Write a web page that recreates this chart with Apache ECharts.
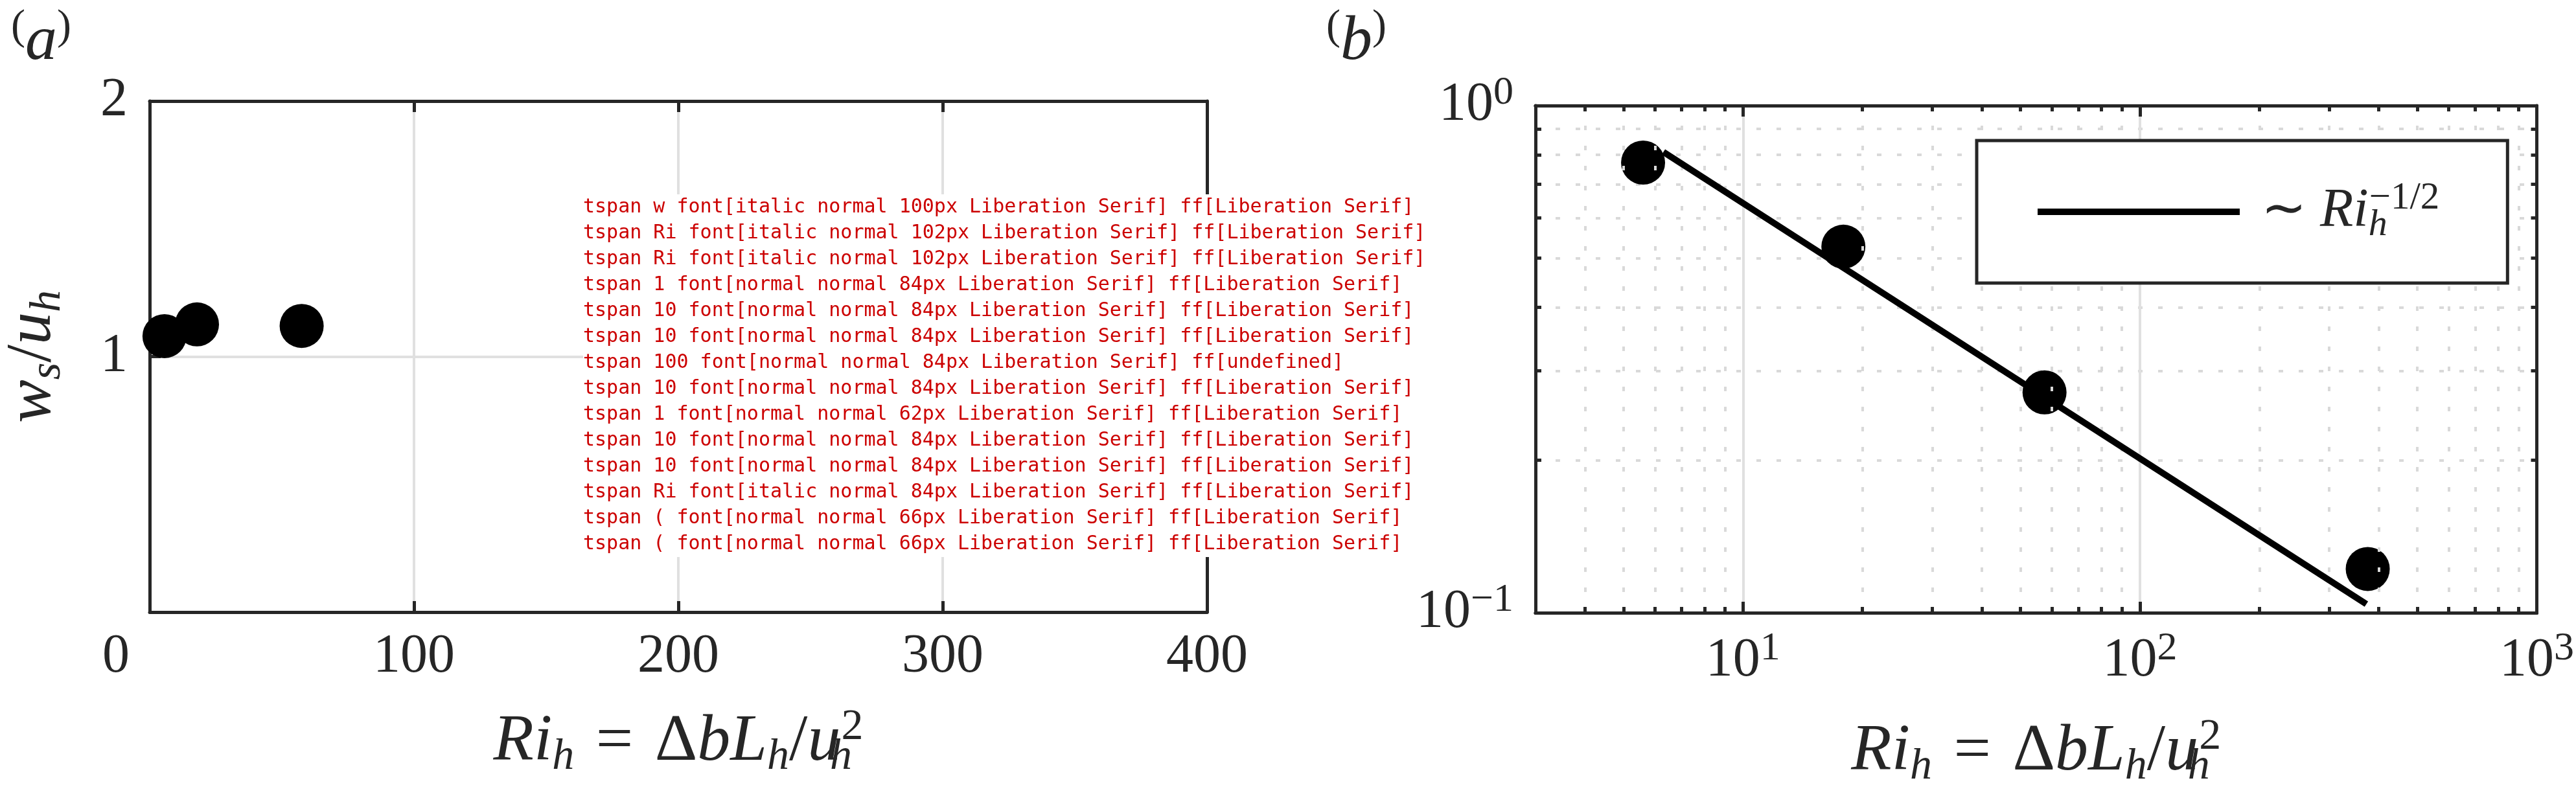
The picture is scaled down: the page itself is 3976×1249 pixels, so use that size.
<!DOCTYPE html>
<html>
<head>
<meta charset="utf-8">
<title>Ri scaling</title>
<script src="https://cdn.jsdelivr.net/npm/echarts@6/dist/echarts.min.js"></script>
<style>
  html, body { margin: 0; padding: 0; background: #fff; }
  #main { width: 3976px; height: 1249px; }
</style>
</head>
<body>
<div id="main"></div>
<script>
var riValues = [5.6, 17.9, 57.5, 375];
var wsRatio = [1.08, 1.126, 1.12, 1.23];
var leRatio = [0.772, 0.527, 0.272, 0.122];
var fitRi = [6.3, 372];
var fitLe = [0.81, 0.104];
var xTicksA = [100, 200, 300];
var xLabelsA = [0, 100, 200, 300, 400];
var yTicksA = [1];
var yLabelsA = [1, 2];
var xMajorB = [10, 100];
var xLabelsB = [10, 100, 1000];
var xMinorB = [4, 5, 6, 7, 8, 9, 20, 30, 40, 50, 60, 70, 80, 90, 200, 300, 400, 500, 600, 700, 800, 900];
var yMinorB = [0.2, 0.3, 0.4, 0.5, 0.6, 0.7, 0.8, 0.9];
var yLabelsB = [0.1, 1];

var serif = 'Liberation Serif';
var ink = '#262626';

function pairs(xs, ys) {
  return xs.map(function (x, i) { return [x, ys[i]]; });
}

function mathRich(size, sub, lh, subLh, supLh) {
  return {
    r: { fontFamily: serif, fontSize: size, lineHeight: lh, color: ink },
    q: { fontFamily: serif, fontSize: size, lineHeight: lh, color: ink, padding: [0, 8, 0, 8] },
    i: { fontFamily: serif, fontSize: size, lineHeight: lh, fontStyle: 'italic', color: ink },
    s: { fontFamily: serif, fontSize: sub, lineHeight: subLh, fontStyle: 'italic', verticalAlign: 'bottom', color: ink },
    z: { fontFamily: serif, fontSize: sub, lineHeight: subLh, fontStyle: 'italic', verticalAlign: 'bottom', color: ink, width: 1 },
    p: { fontFamily: serif, fontSize: sub, lineHeight: supLh, verticalAlign: 'top', color: ink }
  };
}

var tickRich = {
  b: { fontFamily: serif, fontSize: 84, lineHeight: 100, color: ink },
  e: { fontFamily: serif, fontSize: 62, lineHeight: 55, verticalAlign: 'top', color: ink }
};

function powLabel(v) {
  var e = Math.round(Math.log(v) / Math.LN10);
  return '{b|10}{e|' + (e < 0 ? '\u2212' + (-e) : e) + '}';
}

var riTitle = '{i|Ri}{s|h}{q| = }{r|\u0394}{i|bL}{s|h}{r|/}{i|u}{z|h}{p|2}';

var lineOn = { show: true, onZero: false, lineStyle: { color: ink, width: 5 } };
var gridMajor = { show: true, lineStyle: { color: '#e0e0e0', width: 4 } };
var gridMinor = { show: true, lineStyle: { color: '#d9d9d9', width: 4, type: [7, 24] } };

function ticks(values, len) {
  return { show: true, inside: true, length: len, customValues: values, lineStyle: { color: ink, width: 5 } };
}

function noLabel() { return { show: false }; }
var dot = { color: '#000', opacity: 1 };

var myChart = echarts.init(document.getElementById('main'));

var option = {
  animation: false,
  backgroundColor: '#fff',
  color: ['#000'],
  textStyle: { fontFamily: serif },
  title: [
    { text: '{p|(}{i|a}{p|)}', left: 17, top: 10, padding: 0,
      textStyle: { fontFamily: serif, fontWeight: 'normal', rich: mathRich(98, 66, 110, 40, 82) } },
    { text: '{p|(}{i|b}{p|)}', left: 2047, top: 10, padding: 0,
      textStyle: { fontFamily: serif, fontWeight: 'normal', rich: mathRich(98, 66, 110, 40, 82) } }
  ],
  grid: [
    { left: 231, top: 156, width: 1632, height: 789 },
    { left: 2370, top: 163, width: 1549, height: 783 }
  ],
  legend: {
    data: ['fit'],
    left: 3051, top: 217,
    padding: [60, 105, 60, 94],
    borderColor: ink, borderWidth: 5,
    backgroundColor: '#fff',
    icon: 'rect', itemWidth: 312, itemHeight: 10,
    selectedMode: false,
    formatter: function () { return '{t|\u223c }{i|Ri}{z|h}{p|\u22121/2}'; },
    textStyle: {
      fontFamily: serif, fontWeight: 'normal',
      rich: {
        t: { fontFamily: serif, fontSize: 84, lineHeight: 100, color: ink, padding: [0, 0, 0, 28] },
        i: { fontFamily: serif, fontSize: 84, lineHeight: 100, fontStyle: 'italic', color: ink },
        z: { fontFamily: serif, fontSize: 58, lineHeight: 44, fontStyle: 'italic', verticalAlign: 'bottom', color: ink, width: 1 },
        p: { fontFamily: serif, fontSize: 59, lineHeight: 76, verticalAlign: 'top', color: ink }
      }
    }
  },
  xAxis: [
    {
      type: 'value', gridIndex: 0, position: 'bottom', min: 0, max: 400, interval: 100,
      axisLine: lineOn, axisTick: ticks(xTicksA, 17), splitLine: gridMajor,
      axisLabel: {
        customValues: xLabelsA, margin: 28, fontFamily: serif, fontWeight: 'normal', fontSize: 84, color: ink,
        formatter: function (v) { return v === 0 ? '{z|0}' : String(v); },
        rich: { z: { fontFamily: serif, fontSize: 84, color: ink, padding: [0, 104, 0, 0] } }
      },
      name: riTitle, nameLocation: 'middle', nameGap: 144,
      nameTextStyle: { fontFamily: serif, fontWeight: 'normal', rich: mathRich(102, 68, 114, 42, 66) }
    },
    {
      type: 'value', gridIndex: 0, position: 'top', min: 0, max: 400, interval: 100, z: 3,
      axisLine: lineOn, axisTick: ticks(xTicksA, 17), splitLine: { show: false }, axisLabel: noLabel()
    },
    {
      type: 'log', logBase: 10, gridIndex: 1, position: 'bottom', min: 3, max: 1000,
      axisLine: lineOn, axisTick: ticks(xMajorB, 17), splitLine: gridMajor,
      axisLabel: { customValues: xLabelsB, margin: 25, fontFamily: serif, fontWeight: 'normal', formatter: powLabel, rich: tickRich },
      name: riTitle, nameLocation: 'middle', nameGap: 158,
      nameTextStyle: { fontFamily: serif, fontWeight: 'normal', rich: mathRich(102, 68, 114, 42, 66) }
    },
    {
      type: 'log', logBase: 10, gridIndex: 1, position: 'bottom', min: 3, max: 1000, z: 3,
      axisLine: lineOn, axisTick: ticks(xMinorB, 9), splitLine: gridMinor, axisLabel: noLabel()
    },
    {
      type: 'log', logBase: 10, gridIndex: 1, position: 'top', min: 3, max: 1000, z: 3,
      axisLine: lineOn, axisTick: ticks(xMajorB, 17), splitLine: { show: false }, axisLabel: noLabel()
    },
    {
      type: 'log', logBase: 10, gridIndex: 1, position: 'top', min: 3, max: 1000, z: 3,
      axisLine: lineOn, axisTick: ticks(xMinorB, 9), splitLine: { show: false }, axisLabel: noLabel()
    }
  ],
  yAxis: [
    {
      type: 'value', gridIndex: 0, position: 'left', min: 0, max: 2, interval: 1,
      axisLine: lineOn, axisTick: ticks(yTicksA, 17), splitLine: gridMajor,
      axisLabel: { customValues: yLabelsA, margin: 34, fontFamily: serif, fontWeight: 'normal', fontSize: 84, color: ink },
      name: '{i|w}{s|s}{r|/}{i|u}{s|h}', nameLocation: 'middle', nameGap: 123,
      nameTextStyle: { fontFamily: serif, fontWeight: 'normal', rich: mathRich(100, 68, 114, 42, 86) }
    },
    {
      type: 'value', gridIndex: 0, position: 'right', min: 0, max: 2, interval: 1, z: 3,
      axisLine: lineOn, axisTick: ticks(yTicksA, 17), splitLine: { show: false }, axisLabel: noLabel()
    },
    {
      type: 'log', logBase: 10, gridIndex: 1, position: 'left', min: 0.1, max: 1,
      axisLine: lineOn, axisTick: ticks(yMinorB, 9), splitLine: gridMinor,
      axisLabel: { customValues: yLabelsB, margin: 34, fontFamily: serif, fontWeight: 'normal', formatter: powLabel, rich: tickRich },
      name: '{i|L}{s|E}{r|/}{i|L}{s|h}', nameLocation: 'middle', nameGap: 219,
      nameTextStyle: { fontFamily: serif, fontWeight: 'normal', rich: mathRich(100, 68, 114, 42, 86) }
    },
    {
      type: 'log', logBase: 10, gridIndex: 1, position: 'right', min: 0.1, max: 1, z: 3,
      axisLine: lineOn, axisTick: ticks(yMinorB, 9), splitLine: { show: false }, axisLabel: noLabel()
    }
  ],
  series: [
    { type: 'scatter', xAxisIndex: 0, yAxisIndex: 0, data: pairs(riValues, wsRatio), symbolSize: 68, itemStyle: dot, clip: false },
    { name: 'fit', type: 'line', xAxisIndex: 2, yAxisIndex: 2, data: pairs(fitRi, fitLe), symbol: 'none', showSymbol: false,
      itemStyle: dot, lineStyle: { color: '#000', width: 10, cap: 'butt' } },
    { type: 'scatter', xAxisIndex: 2, yAxisIndex: 2, data: pairs(riValues, leRatio), symbolSize: 68, itemStyle: dot }
  ]
};

myChart.setOption(option);

var found = [];
myChart.getZr().storage.getDisplayList(true).forEach(function (el) {
  var s = el.style || {};
  var t = s.text;
  if (t === '100' || t === 'Ri' || t === '(' || t === '1' || t === '10' || t === 'w') {
    found.push(el.type + ' ' + t + ' font[' + s.font + '] ff[' + s.fontFamily + ']');
  }
});
myChart.setOption({ graphic: [{ type: 'text', left: 900, top: 300, z: 100,
  style: { text: found.join('\n') || 'none', fontSize: 30, lineHeight: 40, fontFamily: 'monospace', fill: '#c00', backgroundColor: '#fff' } }] });
</script>
</body>
</html>
